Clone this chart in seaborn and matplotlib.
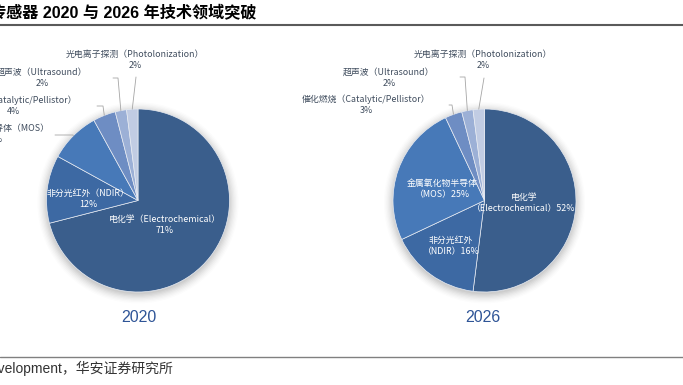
import matplotlib
matplotlib.use("Agg")
import matplotlib.pyplot as plt
from matplotlib.patches import Circle
import numpy as np
import seaborn as sns

# ---------------- data ----------------
categories_cn = ['电化学', '非分光红外', '金属氧化物半导体', '催化燃烧', '超声波', '光电离子探测']
categories_en = ['Electrochemical', 'NDIR', 'MOS', 'Catalytic/Pellistor', 'Ultrasound', 'Photolonization']
share_2020 = [71, 12, 9, 4, 2, 2]
share_2026 = [52, 16, 25, 3, 2, 2]
years = ['2020', '2026']
title_text = '传感器 2020 与 2026 年技术领域突破'
source_text = '资料来源：Yole Development，华安证券研究所'

colors = ['#3A5E8C', '#3D69A3', '#4779B8', '#6E8DC3', '#9CB0D6', '#C1CCE3']

# ---------------- style ----------------
sns.set_theme(style='white')
plt.rcParams['font.family'] = ['Noto Sans CJK SC', 'DejaVu Sans']

W, H = 683, 385
fig = plt.figure(figsize=(W / 100, H / 100), dpi=100)
fig.patch.set_facecolor('white')

R = 91.5  # pie radius in px

def fx(px):
    return px / W

def fy(py):
    return 1 - py / H

LBL = '#404D5E'
FS = 6.4

# per-pie layout (pixel positions of label block centres, leader elbows)
layouts = [
    dict(center=(138, 200.5), box=(0, 330, 30, 345), year_pos=(139, 317),
         labels={
             0: ((165, 225), True, "{cn}（{en}）\n{v}%", None),
             1: ((88, 199), True, "{cn}（{en}）\n{v}%", None),
             2: ((-4, 134), False, "{cn}（{en}）\n{v}%", [(73, 135), (55, 135)]),
             3: ((13, 106), False, "{cn}（{en}）\n{v}%", [(103, 106), (97, 106)]),
             4: ((42, 78), False, "{cn}（{en}）\n{v}%", [(118, 78), (113, 78)]),
             5: ((135, 60), False, "{cn}（{en}）\n{v}%", [(136, 77)]),
         }),
    dict(center=(484.5, 200.5), box=(335, 683, 30, 345), year_pos=(483, 317),
         labels={
             0: ((524, 203), True, "{cn}\n（{en}）{v}%", None),
             1: ((451, 246), True, "{cn}\n（{en}）{v}%", None),
             2: ((442, 189), True, "{cn}\n（{en}）{v}%", None),
             3: ((366, 105), False, "{cn}（{en}）\n{v}%", [(452, 105), (449, 105)]),
             4: ((389, 78), False, "{cn}（{en}）\n{v}%", [(465, 77), (460, 77)]),
             5: ((483, 60), False, "{cn}（{en}）\n{v}%", [(484, 78)]),
         }),
]

for values, year, lay in zip([share_2020, share_2026], years, layouts):
    cx, cy = lay['center']
    x0, x1, y0, y1 = lay['box']
    ax = fig.add_axes([fx(x0), fy(y1), (x1 - x0) / W, (y1 - y0) / H])

    def d(p):
        return ((p[0] - cx) / R, (cy - p[1]) / R)

    # soft shadow
    for i, r in enumerate(np.linspace(1.10, 1.0, 8)):
        ax.add_patch(Circle((0, -0.025), r, color='#000000', alpha=0.012 + 0.004 * i,
                            lw=0, zorder=0))

    wedges, _ = ax.pie(values, colors=colors, startangle=90, counterclock=False,
                       radius=1.0, center=(0, 0), frame=True,
                       wedgeprops=dict(edgecolor='#E8ECF3', linewidth=0.5))
    ax.set_xlim((x0 - cx) / R, (x1 - cx) / R)
    ax.set_ylim((cy - y1) / R, (cy - y0) / R)
    ax.set_aspect('auto')
    ax.axis('off')
    for w in wedges:
        w.set_zorder(2)

    for i, (pos, inside, fmt, leader) in lay['labels'].items():
        txt = fmt.format(cn=categories_cn[i], en=categories_en[i], v=values[i])
        tx, ty = d(pos)
        ax.text(tx, ty, txt, ha='center', va='center', multialignment='center',
                fontsize=FS, color='white' if inside else LBL, linespacing=1.25,
                zorder=5, clip_on=False)
        if leader:
            w = wedges[i]
            mid = np.deg2rad((w.theta1 + w.theta2) / 2)
            xs = [np.cos(mid)]
            ys = [np.sin(mid)]
            for p in leader:
                px, py = d(p)
                xs.append(px)
                ys.append(py)
            ax.plot(xs, ys, color='#A5A5A5', lw=0.6, zorder=4, clip_on=False)

    fig.text(fx(lay['year_pos'][0]), fy(lay['year_pos'][1]), year, ha='center',
             va='center', fontsize=11.5, color='#2F5597',
             family=['Liberation Sans', 'Noto Sans CJK SC'])

# title
fig.text(fx(257), fy(12), title_text, ha='right', va='center', fontsize=11.6,
         fontweight='bold', color='black',
         family=['Liberation Sans', 'Noto Sans CJK SC'])
fig.add_artist(plt.Line2D([0, 1], [fy(24.5), fy(24.5)], color='#5A5A5A', lw=1.5))

# footer
fig.add_artist(plt.Line2D([0, 1], [fy(357), fy(357)], color='#808080', lw=1.0))
fig.text(fx(173), fy(368), source_text, ha='right', va='center', fontsize=10,
         color='#333333', family=['Liberation Sans', 'Noto Sans CJK SC'])

fig.savefig('out.png', dpi=100, facecolor='white')
